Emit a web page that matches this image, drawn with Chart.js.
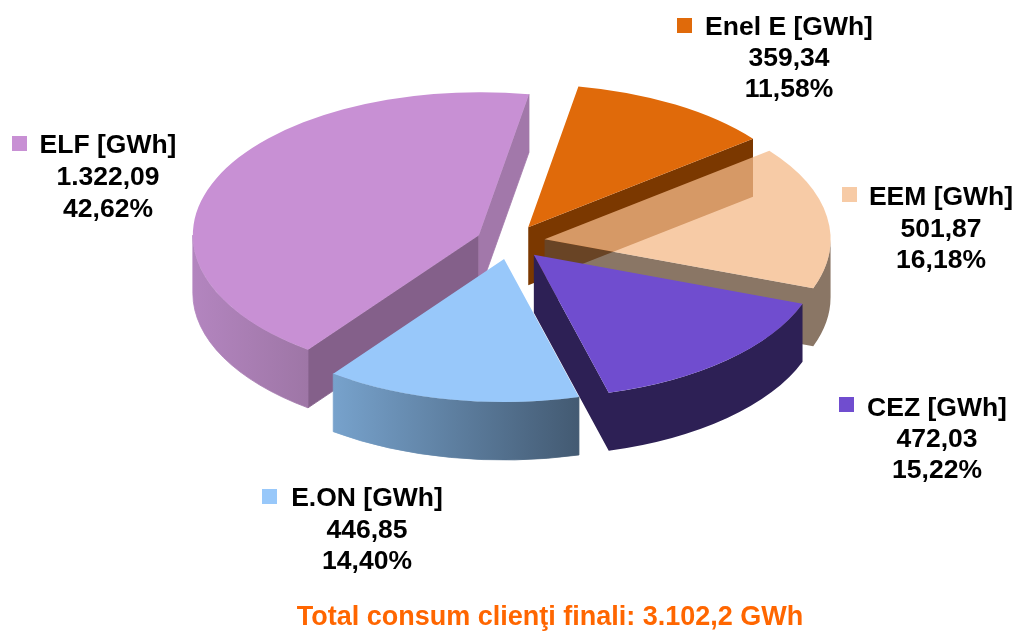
<!DOCTYPE html>
<html>
<head>
<meta charset="utf-8">
<style>html,body{margin:0;padding:0;background:#fff}canvas{display:block}</style>
<script src="https://cdn.jsdelivr.net/npm/chart.js@4/dist/chart.umd.js"></script>
</head>
<body>
<canvas id="c" width="1020" height="632"></canvas>
<script>
const categories = ['Enel E [GWh]', 'EEM [GWh]', 'CEZ [GWh]', 'E.ON [GWh]', 'ELF [GWh]'];
const values = [359.34, 501.87, 472.03, 446.85, 1322.09];
const valueLabels = ['359,34', '501,87', '472,03', '446,85', '1.322,09'];
const percentLabels = ['11,58%', '16,18%', '15,22%', '14,40%', '42,62%'];
const titleText = 'Total consum clienţi finali: 3.102,2 GWh';

const topColors = ['#E06A0A', 'rgba(244,186,136,0.75)', '#704DCF', '#98C8FA', '#C890D4'];
const keyColors = ['#E06A0A', '#F7CBA6', '#704DCF', '#98C8FA', '#C890D4'];
const cutColors = ['#7B3800', 'rgba(99,72,49,0.75)', '#2D2055', '#4F6E8E', '#84608A'];
const cutBackColors = ['#7B3800', 'rgba(99,72,49,0.75)', '#2D2055', '#4F6E8E', '#A278AA'];
const rimLeft = ['#7B3800', 'rgba(99,72,49,0.75)', '#2D2055', '#77A2CC', '#B385BF'];
const rimRight = ['#7B3800', 'rgba(99,72,49,0.75)', '#2D2055', '#435A72', '#9E76A6'];

const SQUASH = 0.5, DEPTH = 58, EXPLODE = 34.5, CY = 242;
const drawOrder = [4, 0, 1, 3, 2];
const labelLayout = [
  {cx: 789, y: [28, 59, 90], key: [677, 18]},
  {cx: 941, y: [198, 230, 261], key: [842, 187]},
  {cx: 937, y: [409, 440, 471], key: [839, 397]},
  {cx: 367, y: [499, 531, 562], key: [262, 489]},
  {cx: 108, y: [146, 178, 210], key: [12, 136]}
];

const pie3d = {
  id: 'pie3d',
  beforeDatasetsDraw(chart) {
    const ctx = chart.ctx;
    const arcs = chart.getDatasetMeta(0).data;
    for (const i of drawOrder) {
      const a = arcs[i];
      const R = a.outerRadius, s = a.startAngle, e = a.endAngle, m = (s + e) / 2;
      const ax = a.x + Math.cos(m) * EXPLODE;
      const ay = CY + Math.sin(m) * EXPLODE * SQUASH;
      const px = t => ax + R * Math.cos(t);
      const py = t => ay + R * SQUASH * Math.sin(t);
      const facePath = t => {
        const p = new Path2D();
        p.moveTo(ax, ay);
        p.lineTo(px(t), py(t));
        p.lineTo(px(t), py(t) + DEPTH);
        p.lineTo(ax, ay + DEPTH);
        p.closePath();
        return p;
      };
      const faces = [];
      if (Math.cos(s) < 0) faces.push([facePath(s), cutColors[i]]);
      if (Math.cos(e) > 0) faces.push([facePath(e), cutBackColors[i]]);
      const rims = [];
      for (const k of [0, 2]) {
        const lo = Math.max(s, k * Math.PI), hi = Math.min(e, (k + 1) * Math.PI);
        if (hi <= lo) continue;
        const p = new Path2D();
        p.ellipse(ax, ay, R, R * SQUASH, 0, lo, hi);
        p.ellipse(ax, ay + DEPTH, R, R * SQUASH, 0, hi, lo, true);
        p.closePath();
        const g = ctx.createLinearGradient(px(hi), 0, px(lo), 0);
        g.addColorStop(0, rimLeft[i]);
        g.addColorStop(1, rimRight[i]);
        rims.push([p, g]);
      }
      const uniform = rimLeft[i] === rimRight[i] && cutColors[i] === rimLeft[i] && cutBackColors[i] === rimLeft[i];
      if (uniform) {
        // one fill for the whole side, so that see-through slices show no seam
        const all = new Path2D();
        faces.forEach(f => all.addPath(f[0]));
        rims.forEach(r => all.addPath(r[0]));
        ctx.fillStyle = rimLeft[i];
        ctx.fill(all);
      } else {
        faces.concat(rims).forEach(([p, col]) => {
          ctx.fillStyle = col;
          ctx.strokeStyle = col;
          ctx.lineWidth = 0.8;
          ctx.fill(p);
          ctx.stroke(p);
        });
      }
      // top face: the library's own arc, squashed and moved out
      ctx.save();
      ctx.translate(ax, ay);
      ctx.scale(1, SQUASH);
      ctx.translate(-a.x, -a.y);
      a.draw(ctx);
      ctx.restore();
    }
    return false;
  },
  afterDraw(chart) {
    const ctx = chart.ctx;
    ctx.save();
    ctx.textAlign = 'center';
    ctx.textBaseline = 'middle';
    ctx.font = 'bold 26.5px "Liberation Sans"';
    ctx.fillStyle = '#000';
    categories.forEach((name, i) => {
      const l = labelLayout[i];
      [name, valueLabels[i], percentLabels[i]].forEach((t, j) => ctx.fillText(t, l.cx, l.y[j]));
    });
    categories.forEach((name, i) => {
      ctx.fillStyle = keyColors[i];
      ctx.fillRect(labelLayout[i].key[0], labelLayout[i].key[1], 15, 15);
    });
    ctx.font = 'bold 27px "Liberation Sans"';
    ctx.fillStyle = '#FF6600';
    ctx.fillText(titleText, 550, 618);
    ctx.restore();
  }
};

new Chart(document.getElementById('c'), {
  type: 'pie',
  data: {
    labels: categories,
    datasets: [{
      data: values,
      backgroundColor: topColors,
      borderWidth: 0,
      radius: 286,
      rotation: 10.1
    }]
  },
  options: {
    responsive: false,
    animation: false,
    layout: {padding: {left: 1}},
    plugins: {legend: {display: false}, tooltip: {enabled: false}, title: {display: false}}
  },
  plugins: [pie3d]
});
</script>
</body>
</html>
